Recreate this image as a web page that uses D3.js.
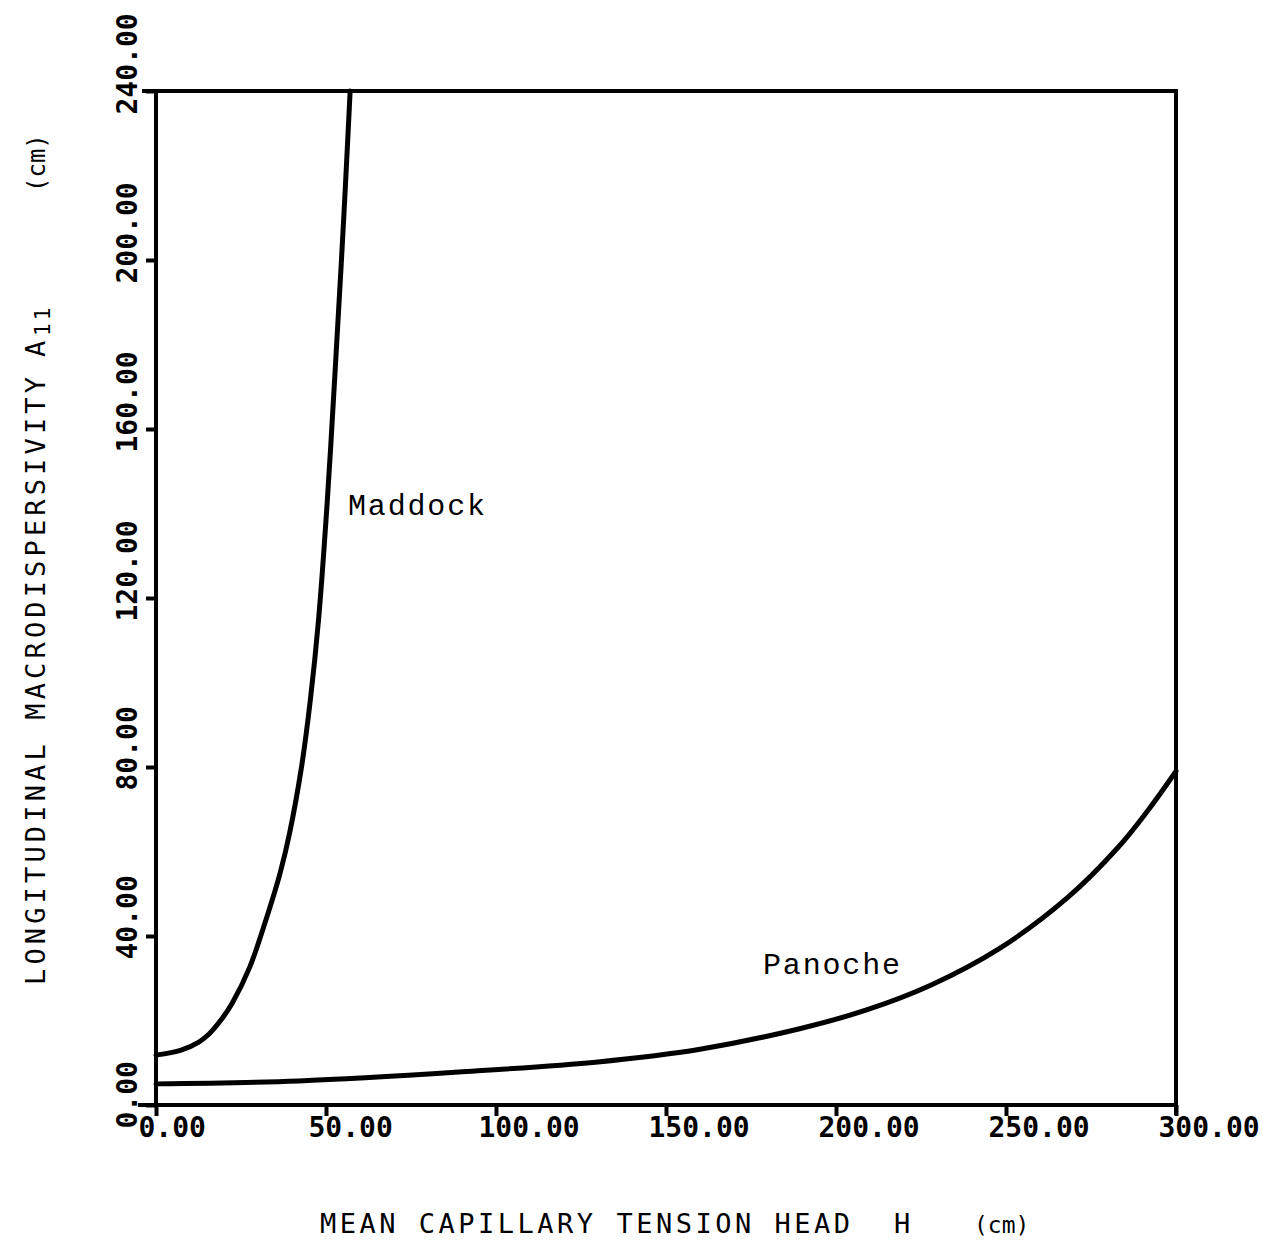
<!DOCTYPE html>
<html>
<head>
<meta charset="utf-8">
<script src="https://cdn.jsdelivr.net/npm/d3@7"></script>
<style>
  html, body { margin: 0; padding: 0; background: #fff; }
  svg { display: block; }
  text { white-space: pre; }
</style>
</head>
<body>
<script>
// ---- Data ----
const xTicks = [0, 50, 100, 150, 200, 250, 300];
const yTicks = [0, 40, 80, 120, 160, 200, 240];

const maddockH = [0, 7.4, 12.6, 15.6, 19.1, 22.4, 27.6, 32.6, 36.5, 39.3, 42.8, 45.4, 47.8, 50.4, 52.7, 54.5, 55.8, 57.1];
const maddockA = [11.8, 13.0, 14.9, 16.8, 20.1, 24.1, 32.7, 44.5, 54.9, 64.4, 80, 95.9, 114.8, 143.2, 174, 199.3, 219, 240];

const panocheH = [0, 42, 89, 130, 160, 189, 209, 228, 248, 268, 283, 292, 300];
const panocheA = [5.0, 5.7, 7.8, 10.2, 13.2, 18.0, 22.5, 28.4, 37, 49, 61, 70, 79];

const seriesLabels = ["Maddock", "Panoche"];
const xTitle = ["MEAN CAPILLARY TENSION HEAD", "H", "(cm)"];
const yTitle = ["LONGITUDINAL MACRODISPERSIVITY", "A", "11", "(cm)"];

// ---- Layout ----
const W = 1278, H = 1241;
const L = 156, R = 1176, T = 91, B = 1105;

const svg = d3.select("body").append("svg").attr("width", W).attr("height", H);

const x = d3.scaleLinear().domain([0, 300]).range([L, R]);
const y = d3.scaleLinear().domain([0, 240]).range([B, T]);

const tickFont = "'DejaVu Sans Mono', monospace";

// X axis
const xg = svg.append("g").attr("transform", `translate(0,${B})`)
  .call(d3.axisBottom(x).tickValues(xTicks).tickFormat(d3.format(".2f")).tickSize(11).tickSizeOuter(0));
xg.select(".domain").attr("stroke-width", 4).attr("d", `M${L - 18},0H${R}`);
xg.selectAll(".tick line").attr("stroke-width", 4);
xg.selectAll(".tick text")
  .attr("text-anchor", "start").attr("x", -18).attr("y", 32).attr("dy", 0)
  .attr("font-family", tickFont).attr("font-weight", "bold").attr("font-size", 28)
  .attr("fill", "#000");

// Y axis
const yg = svg.append("g").attr("transform", `translate(${L},0)`)
  .call(d3.axisLeft(y).tickValues(yTicks).tickFormat(d3.format(".2f")).tickSize(10).tickSizeOuter(0));
yg.select(".domain").attr("stroke-width", 4).attr("d", `M0,${B}V${T}`);
yg.selectAll(".tick line").attr("stroke-width", 4);
yg.selectAll(".tick text")
  .attr("transform", "rotate(-90)")
  .attr("text-anchor", "start").attr("x", -23).attr("y", -19).attr("dy", 0)
  .attr("font-family", tickFont).attr("font-weight", "bold").attr("font-size", 28)
  .attr("fill", "#000");

// Top and right frame
svg.append("path")
  .attr("d", `M${L - 14},${T}H${R}V${B + 10}`)
  .attr("fill", "none").attr("stroke", "#000").attr("stroke-width", 4);

// Curves
const line = d3.line().x(d => x(d[0])).y(d => y(d[1])).curve(d3.curveCatmullRom.alpha(0.5));
const mad = maddockH.map((h, i) => [h, maddockA[i]]);
const pan = panocheH.map((h, i) => [h, panocheA[i]]);
[mad, pan].forEach(pts => {
  svg.append("path").datum(pts).attr("d", line)
    .attr("fill", "none").attr("stroke", "#000").attr("stroke-width", 5)
    .attr("stroke-linecap", "round").attr("stroke-linejoin", "round");
});

// Curve labels
const labFont = "'Liberation Mono', 'Courier New', monospace";
svg.append("text").attr("x", 348).attr("y", 515).text(seriesLabels[0])
  .attr("font-family", labFont).attr("font-size", 30)
  .attr("textLength", 137).attr("lengthAdjust", "spacing");
svg.append("text").attr("x", 763).attr("y", 974).text(seriesLabels[1])
  .attr("font-family", labFont).attr("font-size", 30)
  .attr("textLength", 137).attr("lengthAdjust", "spacing");

// Axis titles
const titleFont = "'DejaVu Sans Mono', monospace";
svg.append("text").attr("x", 320).attr("y", 1233).text(xTitle[0])
  .attr("font-family", titleFont).attr("font-size", 27)
  .attr("textLength", 530).attr("lengthAdjust", "spacing");
svg.append("text").attr("x", 894).attr("y", 1233).text(xTitle[1])
  .attr("font-family", titleFont).attr("font-size", 27);
svg.append("text").attr("x", 974).attr("y", 1233).text(xTitle[2])
  .attr("font-family", titleFont).attr("font-size", 23);

const yt = svg.append("g").attr("transform", "translate(45,0) rotate(-90)");
yt.append("text").attr("x", -985).attr("y", 0).text(yTitle[0])
  .attr("font-family", titleFont).attr("font-size", 27)
  .attr("textLength", 608).attr("lengthAdjust", "spacing");
yt.append("text").attr("x", -357).attr("y", 0).text(yTitle[1])
  .attr("font-family", titleFont).attr("font-size", 27);
yt.append("text").attr("x", -336).attr("y", 5).text(yTitle[2])
  .attr("font-family", titleFont).attr("font-size", 21).attr("letter-spacing", 3);
yt.append("text").attr("x", -192).attr("y", 0).text(yTitle[3])
  .attr("font-family", titleFont).attr("font-size", 24);
</script>
</body>
</html>
